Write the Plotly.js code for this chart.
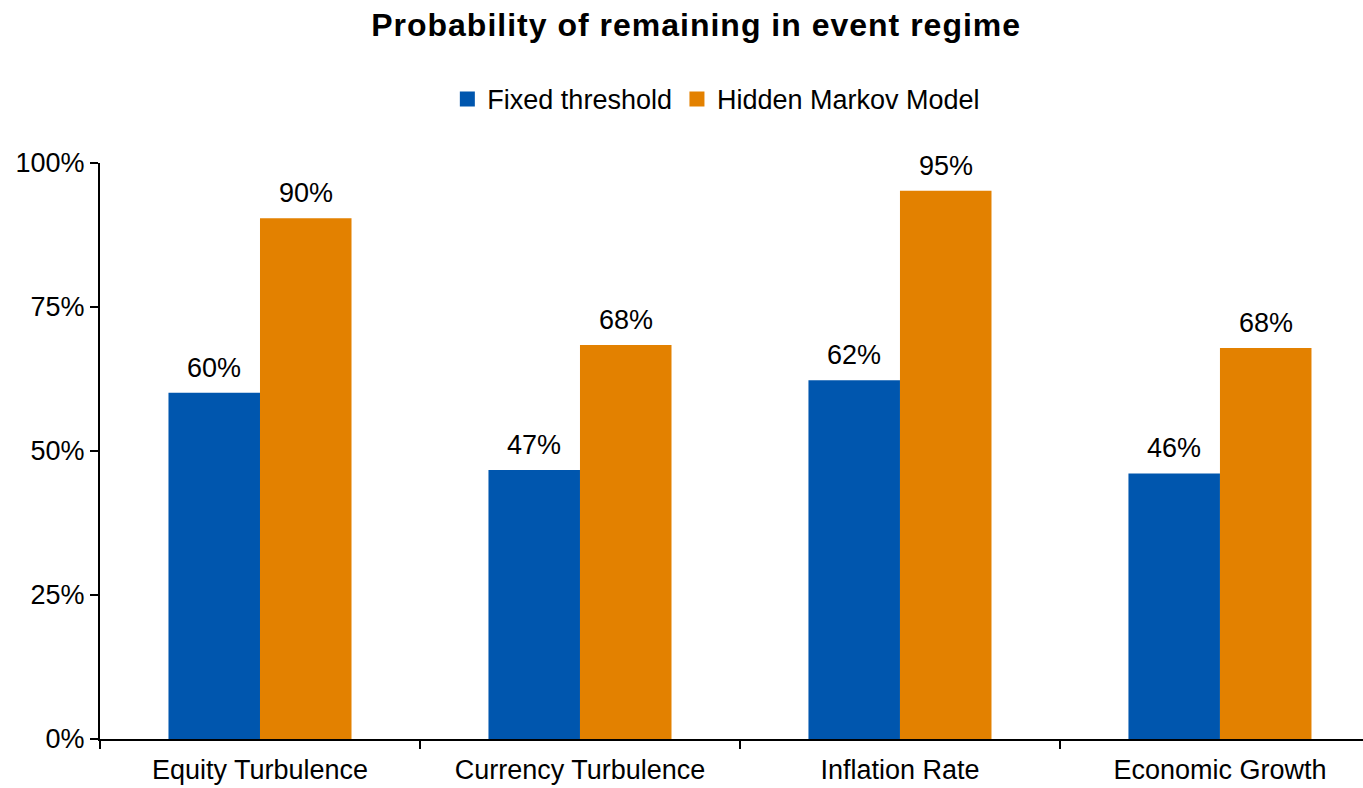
<!DOCTYPE html>
<html>
<head>
<meta charset="utf-8">
<script src="https://cdn.plot.ly/plotly-3.0.1.min.js"></script>
<style>
  html, body { margin: 0; padding: 0; background: #fff; overflow: hidden; }
  #chart { width: 1363px; height: 788px; }
  .gtitle { letter-spacing: 1px; }
</style>
</head>
<body>
<div id="chart"></div>
<script>
// Regime categories and probabilities of staying in the event regime
const categories = ["Equity Turbulence", "Currency Turbulence", "Inflation Rate", "Economic Growth"];
const fixedThreshold = [0.601, 0.467, 0.623, 0.461];
const hiddenMarkov = [0.904, 0.684, 0.952, 0.679];
const seriesNames = ["Fixed threshold", "Hidden Markov Model"];
const yTickValues = [0, 0.25, 0.5, 0.75, 1];

const FONT = "Liberation Sans, Arial, sans-serif";
const BLUE = "#0056AE";
const ORANGE = "#E38100";

const W = 1363, H = 788;
const MARGIN = { l: 100, r: 0, t: 163, b: 49, pad: 0 };
const X_RANGE = [-0.5, 3.447];
const BARGAP = 0.428;

const traces = [
  {
    type: "bar",
    name: seriesNames[0],
    x: categories,
    y: fixedThreshold,
    marker: { color: BLUE, line: { width: 0 } },
    hoverinfo: "skip"
  },
  {
    type: "bar",
    name: seriesNames[1],
    x: categories,
    y: hiddenMarkov,
    marker: { color: ORANGE, line: { width: 0 } },
    hoverinfo: "skip"
  }
];

// Value labels above each bar, offset sideways to sit over its bar in the group
const catPx = (W - MARGIN.l - MARGIN.r) / (X_RANGE[1] - X_RANGE[0]);
const barPx = catPx * (1 - BARGAP) / 2;
const fmtPct = v => Math.round(v * 100) + "%";
const annotations = [];
[fixedThreshold, hiddenMarkov].forEach((series, s) => {
  series.forEach((v, i) => {
    annotations.push({
      x: categories[i],
      y: v,
      xref: "x",
      yref: "y",
      text: fmtPct(v),
      showarrow: false,
      xanchor: "center",
      yanchor: "bottom",
      xshift: (s === 0 ? -0.5 : 0.5) * barPx,
      yshift: 8,
      font: { family: FONT, size: 27, color: "#000" }
    });
  });
});

const layout = {
  width: W,
  height: H,
  margin: MARGIN,
  paper_bgcolor: "#fff",
  plot_bgcolor: "#fff",
  font: { family: FONT, color: "#000" },
  title: {
    text: "<b>Probability of remaining in event regime</b>",
    font: { family: FONT, size: 32, color: "#000" },
    x: 0.472,
    xanchor: "center",
    xref: "paper",
    yref: "container",
    y: 0.969,
    yanchor: "middle"
  },
  showlegend: true,
  legend: {
    orientation: "h",
    x: 0.488,
    xanchor: "center",
    y: 1.153,
    yanchor: "top",
    font: { family: FONT, size: 27, color: "#000" },
    itemwidth: 30,
    traceorder: "normal"
  },
  annotations: annotations,
  barmode: "group",
  bargap: BARGAP,
  bargroupgap: 0,
  xaxis: {
    type: "category",
    range: X_RANGE,
    showline: true,
    linecolor: "#000",
    linewidth: 2,
    ticks: "outside",
    tickson: "boundaries",
    ticklen: 8,
    tickwidth: 2,
    tickcolor: "#000",
    ticklabelstandoff: 6,
    tickfont: { family: FONT, size: 27, color: "#000" },
    showgrid: false,
    zeroline: false,
    fixedrange: true
  },
  yaxis: {
    range: [0, 1],
    tickvals: yTickValues,
    tickformat: ".0%",
    showline: true,
    linecolor: "#000",
    linewidth: 2,
    ticks: "outside",
    ticklen: 8,
    tickwidth: 2,
    tickcolor: "#000",
    tickfont: { family: FONT, size: 27, color: "#000" },
    showgrid: false,
    zeroline: false,
    fixedrange: true
  }
};

// Slightly larger legend swatches
function enlargeSwatches(gd) {
  gd.querySelectorAll(".legend .legendpoints path").forEach(p => {
    const t = p.getAttribute("transform") || "";
    p.setAttribute("transform", (t + " scale(1.25)").trim());
  });
}

Plotly.newPlot("chart", traces, layout, { displayModeBar: false, staticPlot: true })
  .then(enlargeSwatches);
</script>
</body>
</html>
